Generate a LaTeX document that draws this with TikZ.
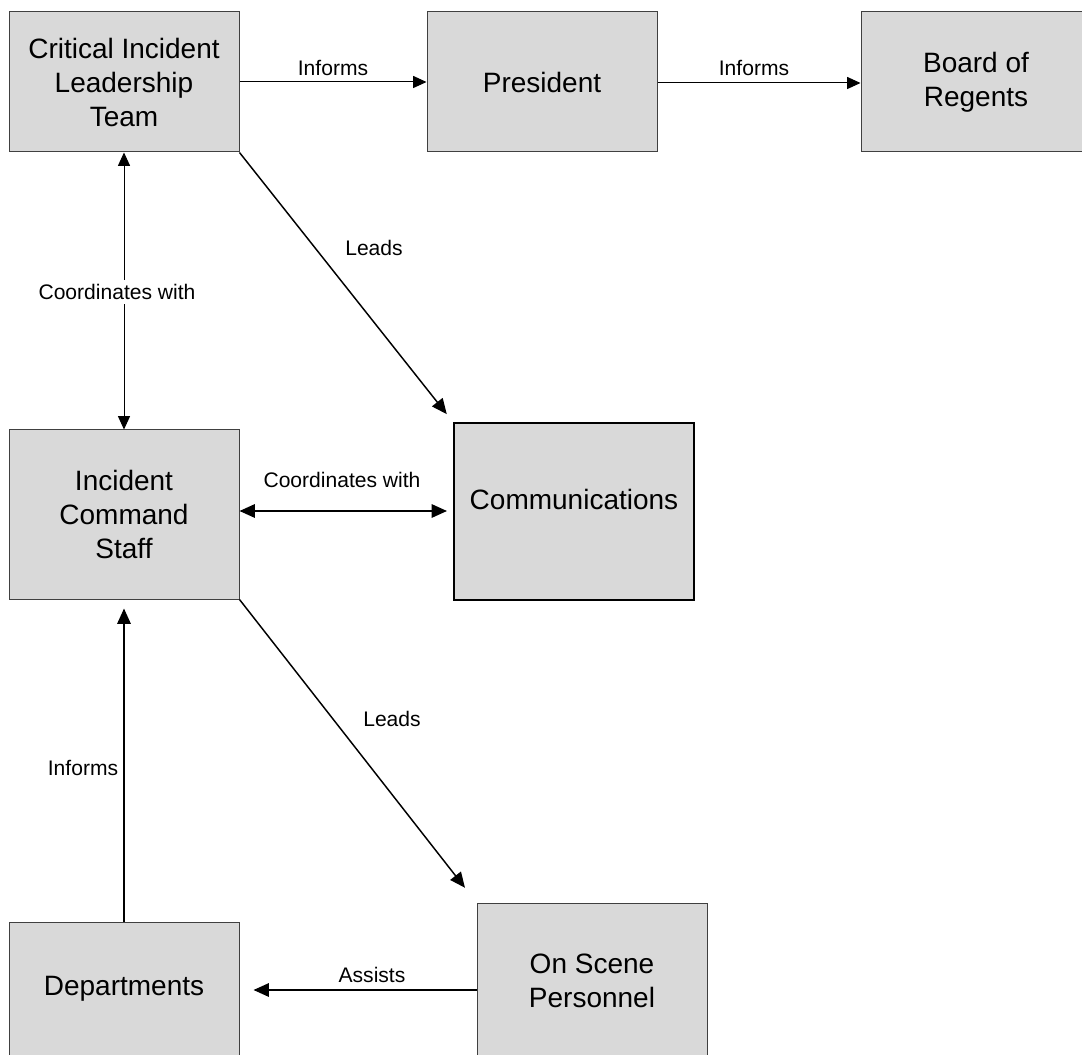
\documentclass[tikz,border=0pt]{standalone}
\usepackage{fontspec}
\setmainfont{Liberation Sans}
\usetikzlibrary{arrows.meta}

\definecolor{boxgrey}{RGB}{217,217,217}

\tikzset{
  box/.style={draw=black!75, fill=boxgrey, line width=0.75pt, inner sep=0pt,
    minimum width=172.5pt, align=center, font=\fontsize{21}{25.5}\selectfont},
  lbl/.style={inner sep=1pt, font=\fontsize{15.8}{18}\selectfont},
  link/.style={line width=0.75pt, -{Triangle[length=10pt,width=9pt]}},
  twolink/.style={line width=0.75pt, {Triangle[length=10pt,width=9pt]}-{Triangle[length=10pt,width=9pt]}},
  heavylink/.style={line width=1.4pt, -{Triangle[length=11.5pt,width=10pt]}},
}

\begin{document}
\begin{tikzpicture}[x=0.75pt,y=0.75pt,yscale=-1,xscale=1]
\path[use as bounding box, fill=white] (0,0) rectangle (1082,1055);

%Shape: Boxes
\node[box, minimum height=105pt] (cilt) at (124,82) {Critical Incident\\Leadership\\Team};
\node[box, minimum height=105pt] (pres) at (542,82) {President};
\node[box, minimum height=105pt] (board) at (976,82) {Board of\\Regents};
\node[box, minimum height=126.75pt] (ics) at (124,514.5) {Incident\\Command\\Staff};
\node[box, draw=black, line width=1.5pt, minimum width=180pt, minimum height=132.75pt, text depth=18pt] (comm) at (574,511.5) {Communications};
\node[box, minimum height=111pt, text depth=14.5pt] (depts) at (124,996) {Departments};
\node[box, minimum height=116.25pt] (osp) at (592,980.5) {On Scene\\Personnel};

%Straight Lines
\draw[link] (cilt.east |- 0,82) -- (pres.west |- 0,82);
\draw[link] (pres.east |- 0,83) -- (board.west |- 0,83);
\draw[twolink] (cilt.south) -- (ics.north);
\draw[line width=1.1pt, -{Triangle[length=11.5pt,width=10pt]}, shorten >=7.5pt] (cilt.south east) -- (comm.north west);
\draw[line width=1.4pt, {Triangle[length=11.5pt,width=10pt]}-{Triangle[length=11.5pt,width=10pt]}, shorten >=4.5pt] (ics.east |- 0,511) -- (comm.west |- 0,511);
\draw[line width=1.1pt, -{Triangle[length=11.5pt,width=10pt]}, shorten >=14pt] (ics.south east) -- (osp.north west);
\draw[heavylink, shorten >=10.5pt] (osp.west |- 0,990) -- (depts.east |- 0,990);
\draw[heavylink, shorten >=6.75pt] (depts.north) -- (ics.south);

% Text Node
\node[lbl] (inf1) at (333,68) {Informs};
% Text Node
\node[lbl] (inf2) at (754,68) {Informs};
% Text Node
\node[lbl, fill=white, inner ysep=3pt] (coord1) at (117,292) {Coordinates with};
% Text Node
\node[lbl] (leads1) at (374,248) {Leads};
% Text Node
\node[lbl] (coord2) at (342,480) {Coordinates with};
% Text Node
\node[lbl] (leads2) at (392,719) {Leads};
% Text Node
\node[lbl] (assists) at (372,975) {Assists};
% Text Node
\node[lbl] (inf3) at (83,768) {Informs};

\end{tikzpicture}
\end{document}
